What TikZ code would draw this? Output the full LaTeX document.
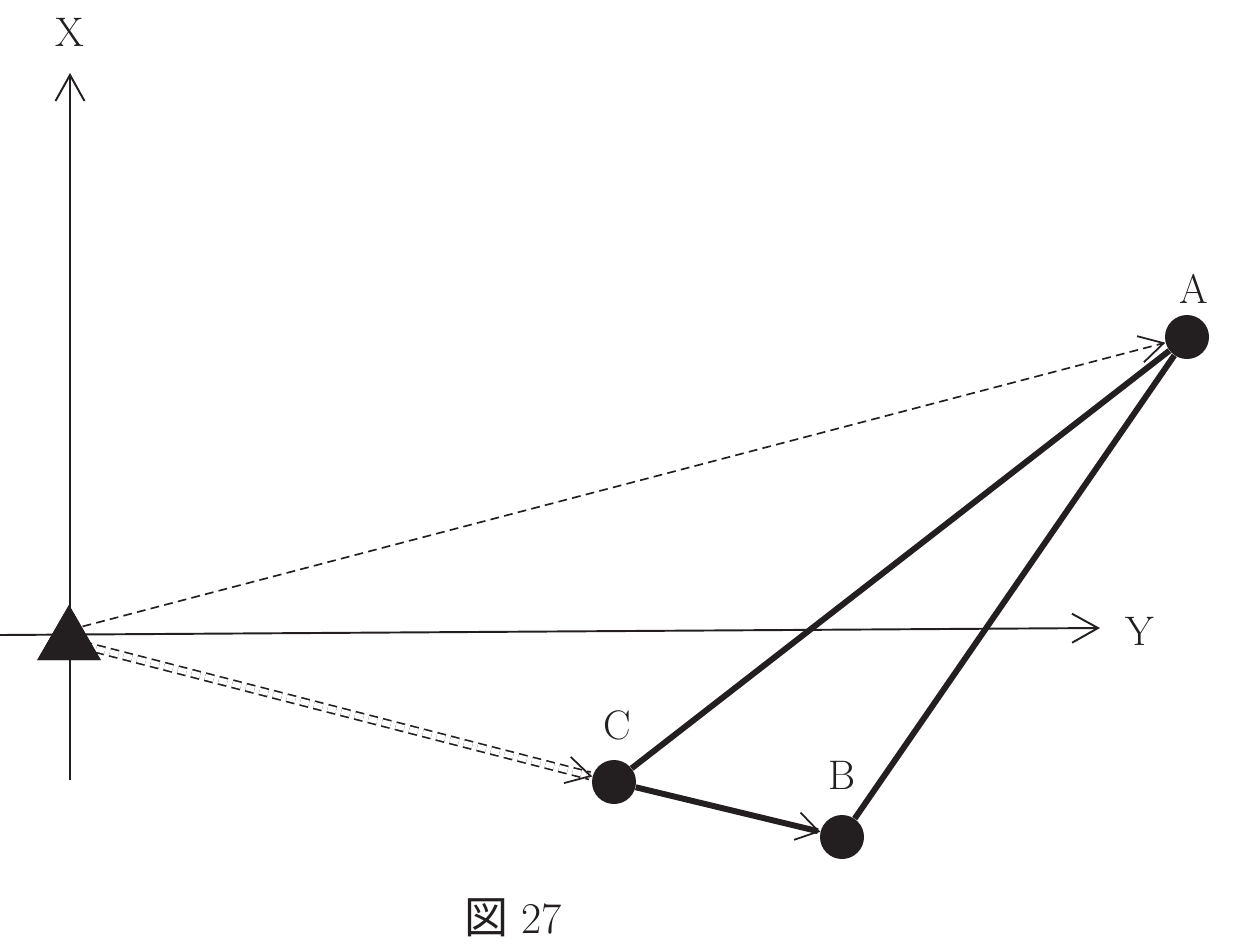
\documentclass[tikz,border=0pt]{standalone}
\usepackage{fontspec}
\usepackage{tikz}
\usetikzlibrary{positioning}
\usetikzlibrary{arrows.meta,shapes.geometric}
\newfontfamily\jpfont{Noto Sans CJK JP}
\definecolor{ink}{RGB}{35,31,32}

\tikzset{
	axisline/.style={ink, line width=1.1pt, -{Straight Barb[length=0.52cm,width=0.58cm]}},
	station/.style={regular polygon, regular polygon sides=3, fill=ink, inner sep=0pt, minimum size=1.47cm},
	point/.style={circle, fill=ink, inner sep=0pt, minimum size=0.88cm},
	sight/.style={ink, dash pattern=on 5pt off 3pt, line width=0.95pt, -{Straight Barb[length=0.48cm,width=0.54cm,line width=1pt]}},
	side/.style={ink, line width=3.4pt},
	lbl/.style={text=ink, font=\fontsize{23.5}{28}\selectfont}
}

\begin{document}
\begin{tikzpicture}[x=0.02cm, y=-0.02cm]

	\useasboundingbox (0,0) rectangle (1248,948);

	% axis end points (pixel grid, y pointing down)
	\coordinate (xB) at (70,780);
	\coordinate (xT) at (70,73);
	\coordinate (yL) at (0,635);
	\coordinate (yR) at (1100,628);
	\coordinate (O) at (69,630);

	% the three points
	\node[point] (A) at (1187,337) {};
	\node[point] (B) at (842,837) {};
	\node[point] (C) at (614,782) {};

	\node[lbl, above=0.1cm of A, xshift=4pt] (labA) {A};
	\node[lbl, above=0.38cm of B] (labB) {B};
	\node[lbl, above=0.26cm of C, xshift=2pt] (labC) {C};

	%%%%%%%%%%%%%%%%%%%%%%%%%%%%%%%%%%%%%%%%%%%%%%%%%%%%%%%%%
	% axes
	\draw[axisline] (xB) -- (xT);
	\draw[axisline] (yL) -- (yR);
	\node[lbl, above=0.4cm of xT] (labX) {X};
	\node[lbl, right=0.39cm of yR, yshift=-2pt] (labY) {Y};

	% sight lines from the station
	\node[station] (T) at (69,641.7) {};
	\draw[sight] (O) -- (A);
	\draw[sight, double, double distance=3.3pt] (T.center) -- (C);
	\node[station] at (T) {};

	% the triangle
	\draw[side] (C) -- (A);
	\draw[side] (A) -- (B);
	\draw[side, -{Straight Barb[length=0.44cm,width=0.56cm,line width=1pt]}] (C) -- (B);

	\node[lbl, font=\fontsize{25}{30}\selectfont] (cap) at (513,918) {{\jpfont 図} 27};

\end{tikzpicture}
\end{document}
